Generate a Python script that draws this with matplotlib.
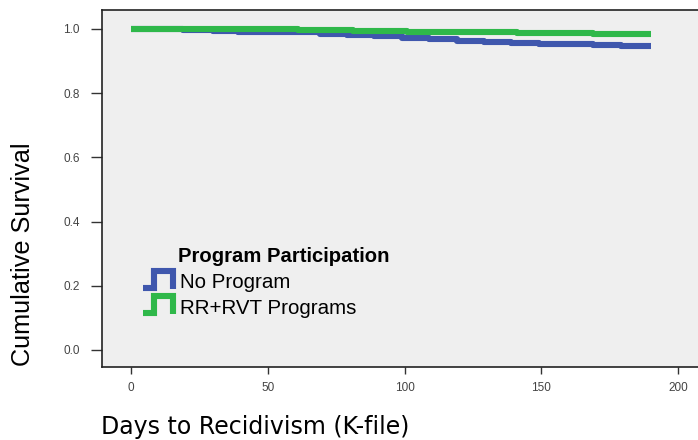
import numpy as np
import matplotlib
matplotlib.use("Agg")
import matplotlib.pyplot as plt
from matplotlib.lines import Line2D

# survival step data (days, cumulative survival)
no_prog_days = [0, 19, 30, 39, 69, 79, 89, 99, 109, 119, 129, 139, 149, 169, 179, 190]
no_prog_surv = [1.0, 0.996, 0.993, 0.989, 0.985, 0.981, 0.977, 0.972, 0.968, 0.963,
                0.959, 0.956, 0.952, 0.949, 0.946, 0.946]

rr_days = [0, 61, 81, 89, 101, 141, 169, 190]
rr_surv = [1.0, 0.997, 0.994, 0.993, 0.991, 0.9875, 0.984, 0.984]

legend_title = "Program Participation"
legend_labels = ["No Program", "RR+RVT Programs"]
blue = "#3f57ad"
green = "#2fb84a"

W, H = 698, 440
fig = plt.figure(figsize=(W / 100, H / 100), dpi=100)

def px(x, y):
    return x / W, 1 - y / H

ax = fig.add_axes([102 / W, (H - 367) / H, (706 - 102) / W, (367 - 10) / H])
ax.set_facecolor("#efefef")

ax.step(no_prog_days, no_prog_surv, where="post", color=blue, lw=4.4, solid_capstyle="butt")
ax.step(rr_days, rr_surv, where="post", color=green, lw=4.4, solid_capstyle="butt")

ax.set_xlim(-10.6, 210.2)
ax.set_ylim(-0.053, 1.059)
ax.set_xticks([0, 50, 100, 150, 200])
ax.set_yticks([0.0, 0.2, 0.4, 0.6, 0.8, 1.0])
ax.set_yticklabels(["0.0", "0.2", "0.4", "0.6", "0.8", "1.0"])
ax.tick_params(axis="both", labelsize=8.5, colors="#333333", labelcolor="#444444",
               width=1)
ax.tick_params(axis="y", length=8, pad=8)
ax.tick_params(axis="x", length=5, pad=6)
for t in ax.get_xticklabels() + ax.get_yticklabels():
    t.set_family("Liberation Sans")
for s in ["left", "bottom", "top"]:
    ax.spines[s].set_color("#222222")
    ax.spines[s].set_linewidth(1.2)
ax.spines["right"].set_visible(False)

fig.text(*px(23, 254), "Cumulative Survival", rotation=90, ha="center", va="center",
         fontsize=18.2, family="Liberation Sans")
fig.text(*px(255, 427), "Days to Recidivism (K-file)", ha="center", va="center",
         fontsize=17, family="DejaVu Sans")

# legend drawn by hand to reproduce step-shaped icons
fig.text(*px(178, 256), legend_title, ha="left", va="center", fontsize=14.6,
         fontweight="bold", family="Liberation Sans")
for i, (lab, col) in enumerate(zip(legend_labels, [blue, green])):
    dy = 25 * i
    xs = [143, 154, 154, 173, 173]
    ys = [288 + dy, 288 + dy, 271 + dy, 271 + dy, 289 + dy]
    pts = [px(a, b) for a, b in zip(xs, ys)]
    fig.add_artist(Line2D([p[0] for p in pts], [p[1] for p in pts], color=col,
                          lw=4.4, solid_joinstyle="miter", solid_capstyle="butt",
                          transform=fig.transFigure))
    fig.text(*px(180, 283 + dy), lab, ha="left", va="center", fontsize=14.8,
             family="Liberation Sans")

fig.savefig("out.png", dpi=100)
